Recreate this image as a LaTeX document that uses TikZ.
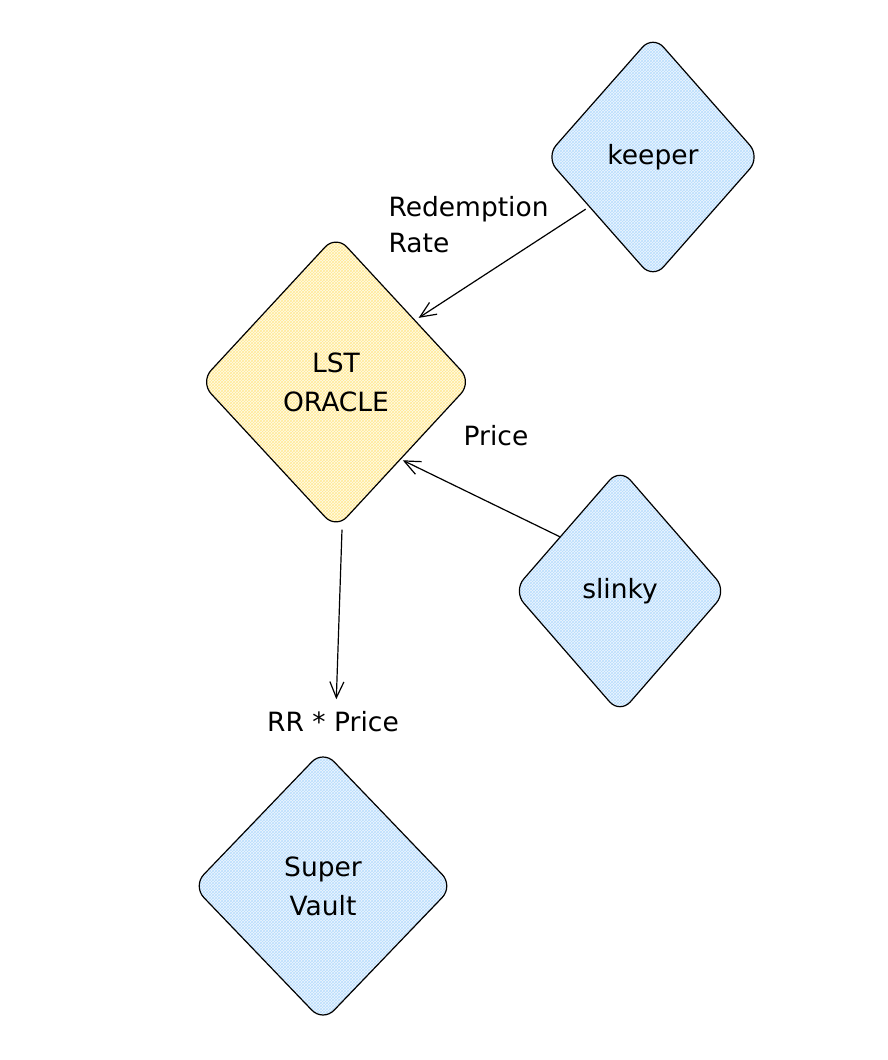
\documentclass[tikz,border=0pt]{standalone}
\usepackage{fontspec}
\setmainfont{DejaVu Sans}
\usetikzlibrary{shapes.geometric, arrows.meta, patterns}

\definecolor{hatchblue}{RGB}{185,222,252}
\definecolor{fillblue}{RGB}{238,246,255}
\definecolor{hatchyellow}{RGB}{255,234,150}
\definecolor{fillyellow}{RGB}{255,251,232}

\begin{document}
\begin{tikzpicture}[x=1pt, y=-1pt,
    box/.style={diamond, draw=black, line width=1.2pt, rounded corners=16pt,
        align=center, inner sep=0pt, font=\fontsize{26.5}{39}\selectfont},
    bluebox/.style={box, preaction={fill=fillblue}, pattern=crosshatch, pattern color=hatchblue},
    yellowbox/.style={box, preaction={fill=fillyellow}, pattern=crosshatch, pattern color=hatchyellow},
    lbl/.style={font=\fontsize{26.5}{36}\selectfont, align=left},
    flow/.style={line width=1.2pt, -{Straight Barb[length=16pt, width=14pt]}}]
                    \useasboundingbox (0,0) rectangle (888,1060);
                    % the four boxes
                    \node[bluebox, minimum width=215pt, minimum height=244pt] (keeper) at (653,157) {keeper};
                    \node[yellowbox, minimum width=272pt, minimum height=294pt] (oracle) at (336,382) {LST\\ORACLE};
                    \node[bluebox, minimum width=214pt, minimum height=246pt] (slinky) at (620,591) {slinky};
                    \node[bluebox, minimum width=261pt, minimum height=272pt] (vault) at (323,886) {Super\\Vault};
                    % labels
                    \node[lbl, anchor=west] (redemption) at (385,225) {Redemption\\Rate};
                    \node[lbl] (price) at (496,436) {Price};
                    \node[lbl] (rr) at (333,722) {RR * Price};
                    % arrows
                    \draw[flow, shorten <=4pt, shorten >=4pt] (keeper.218) -- (oracle.38);
                    \draw[flow, shorten >=2pt] (slinky.138) -- (oracle.-50);
                    \draw[flow, shorten >=9pt] ([xshift=6pt]oracle.south) -- ([xshift=3pt]rr.north);
                \end{tikzpicture}
\end{document}
